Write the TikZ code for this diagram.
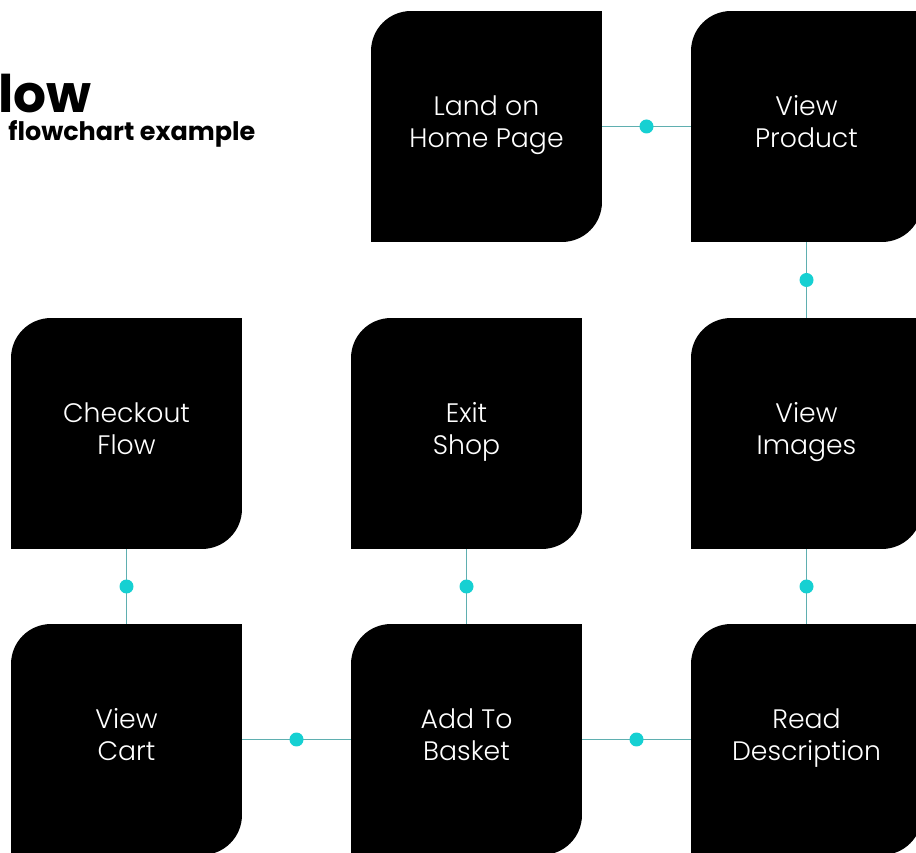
\documentclass[tikz,border=0pt]{standalone}
\usepackage{fontspec}
\setmainfont{Poppins}
\newfontfamily\lightfont{Poppins Light}
\usepackage{tikz}

\definecolor{linkline}{RGB}{95,175,176}
\definecolor{linkdot}{RGB}{22,208,210}

\begin{document}
\begin{tikzpicture}[x=0.02cm, y=0.02cm, inner sep=0pt,
  box/.style={rectangle, minimum width=4.62cm, minimum height=4.62cm, align=center, text=white,
    font=\lightfont\fontsize{15.2}{18.2}\selectfont,
    execute at begin node=\strut, execute at end node=\strut,
    path picture={\fill[black] (path picture bounding box.south west)
      -- ([yshift=-0.8cm]path picture bounding box.north west)
      arc[start angle=180, end angle=90, radius=0.8cm]
      -- (path picture bounding box.north east)
      -- ([yshift=0.8cm]path picture bounding box.south east)
      arc[start angle=0, end angle=-90, radius=0.8cm] -- cycle;}},
  link/.style={draw=linkline, line width=1.1pt},
  dot/.style={circle, fill=linkdot, minimum size=0.28cm}]
\useasboundingbox (0,0) rectangle (916,852);

% title, cut off at the left edge
\node (title) at (-2,739) [anchor=base west, text depth=0pt, font=\fontsize{29.5}{30}\bfseries\selectfont] {low};
\node (subtitle) at (8,711) [anchor=base west, text height=7.5pt, font=\fontsize{14.5}{15}\bfseries\selectfont] {flowchart example};

% steps
\node (home) at (486.5,725.5) [box] {Land on\\Home Page};
\node (product) at (806.5,725.5) [box] {View\\Product};
\node (checkout) at (126.5,418.5) [box] {Checkout\\Flow};
\node (exit) at (466.5,418.5) [box] {Exit\\Shop};
\node (images) at (806.5,418.5) [box] {View\\Images};
\node (cart) at (126.5,112.5) [box] {View\\Cart};
\node (basket) at (466.5,112.5) [box] {Add To\\Basket};
\node (read) at (806.5,112.5) [box] {Read\\Description};

% links
\draw[link] (home) -- node[dot] (d1) {} (product);
\draw[link] (product) -- node[dot] (d2) {} (images);
\draw[link] (images) -- node[dot] (d3) {} (read);
\draw[link] (read) -- node[dot] (d4) {} (basket);
\draw[link] (basket) -- node[dot] (d5) {} (exit);
\draw[link] (basket) -- node[dot] (d6) {} (cart);
\draw[link] (cart) -- node[dot] (d7) {} (checkout);
\end{tikzpicture}
\end{document}
